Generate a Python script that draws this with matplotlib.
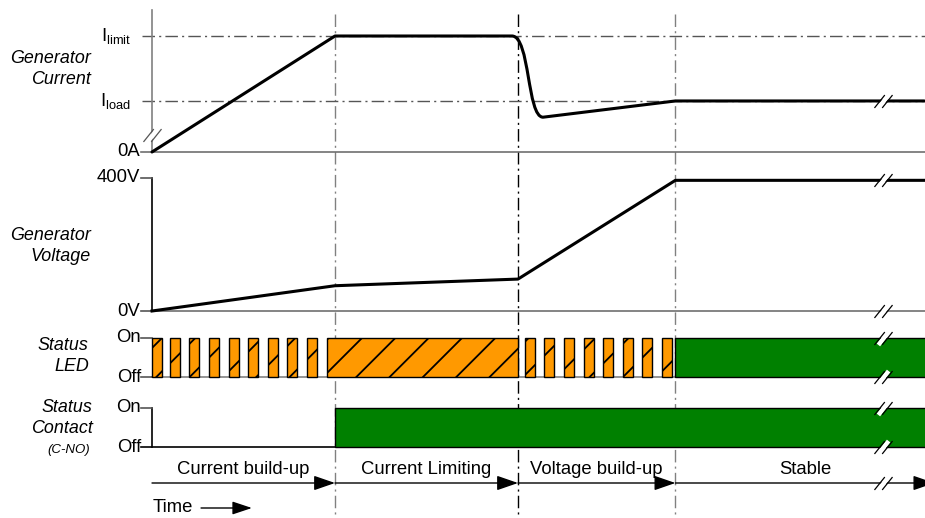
import matplotlib.pyplot as plt
from matplotlib.path import Path
from matplotlib.patches import PathPatch, Rectangle
from matplotlib.markers import MarkerStyle

plt.rcParams['font.family'] = ['Liberation Sans', 'DejaVu Sans']
plt.rcParams['hatch.linewidth'] = 1.3
plt.rcParams['hatch.color'] = '#2b1e08'

# phases (time in arbitrary units)
phase_names = ["Current build-up", "Current Limiting", "Voltage build-up", "Stable"]
phase_start = [0, 10, 20, 28.6]
t_end = 42.2       # right edge of the drawing
t_break = 39.95    # where the "//" marks sit

# generator current, fraction of I_limit
cur_t = [0, 10, 19.67, 21.37, 28.6, 42.2]
cur_i = [0, 1.0, 1.0, 0.30, 0.44, 0.44]
drop_ctrl_t = [20.66, 20.49]   # bezier handles of the drop after limiting
drop_ctrl_i = [1.0, 0.30]
i_ticks = [0, 0.44, 1.0]
i_ticklabels = ["0A", r"$\mathregular{I_{load}}$", r"$\mathregular{I_{limit}}$"]

# generator voltage
volt_t = [0, 10, 20, 28.6, 42.2]
volt_v = [0, 76, 96, 393, 393]
v_ticks = [0, 400]
v_ticklabels = ["0V", "400V"]

# status LED: blink starts, steady orange, steady green
led_blink_t = [0, 0.98, 2.02, 3.11, 4.21, 5.25, 6.34, 7.38, 8.47,
               20.38, 21.42, 22.51, 23.61, 24.64, 25.74, 26.78, 27.87]
led_blink_len = 0.55
led_orange = (9.56, 20)
led_green = (28.6, t_end)
# status contact closed
contact_on = (10, t_end)

# layout, pixel rows (figure is 925x518)
PX = 18.3          # pixels per time unit
X0 = 152           # pixel of t=0
CUR_BASE, CUR_H = 152, 116
VOLT_BASE, VOLT_H = 311, 133
LED_OFF, LED_ON = 377, 338
CON_OFF, CON_ON = 447, 408
ARROW_Y, TIME_Y = 483, 508
ORANGE, GREEN = '#ff9900', '#008000'
FS = 13.3      # tick / phase text
FS_LBL = 12.9  # italic row names

fig = plt.figure(figsize=(9.25, 5.18), dpi=100)
ax = fig.add_axes([0, 0, 1, 1])
ax.set_xlim(-X0 / PX, (925 - X0) / PX)
ax.set_ylim(518, 0)
ax.axis('off')

tick = 0.6
dashdot = (0, (9, 3, 1.5, 3))


def cy(i):
    return CUR_BASE - i * CUR_H


def vy(v):
    return VOLT_BASE - v / 400 * VOLT_H


def row_name(y, txt, x=-3.35, ls=1.32):
    ax.text(x, y, txt, ha='right', va='center', style='italic',
            fontsize=FS_LBL, linespacing=ls, multialignment='right')


# phase boundaries
for k, t in enumerate(phase_start[1:]):
    ax.plot([t, t], [14, 518], ls=dashdot, lw=1,
            color='black' if k == 1 else '#808080', zorder=1)

# ---- generator current
ax.plot([0, 0], [10, CUR_BASE], color='#808080', lw=1.2)
ax.plot([0, t_end + 1], [CUR_BASE] * 2, color='#707070', lw=1.2)
ax.plot([-tick, 0], [CUR_BASE] * 2, color='#707070', lw=1.2)
for lvl in i_ticks[1:]:
    ax.plot([-0.55, t_end + 1], [cy(lvl)] * 2, ls=dashdot, lw=1, color='#555555', zorder=1)
for lvl, lab in zip(i_ticks, i_ticklabels):
    xoff = -0.65 if lvl == 0 else -1.15
    ax.text(xoff, cy(lvl), lab, ha='right', va='center', fontsize=FS)

verts = [(t, cy(i)) for t, i in zip(cur_t[:3], cur_i[:3])]
verts += [(t, cy(i)) for t, i in zip(drop_ctrl_t, drop_ctrl_i)]
verts += [(t, cy(i)) for t, i in zip(cur_t[3:], cur_i[3:])]
codes = [Path.MOVETO, Path.LINETO, Path.LINETO, Path.CURVE4, Path.CURVE4,
         Path.CURVE4, Path.LINETO, Path.LINETO]
ax.add_patch(PathPatch(Path(verts, codes), fill=False, lw=2.2, ec='black',
                       joinstyle='round', capstyle='round', zorder=3))
row_name(69, "Generator\nCurrent")

# ---- generator voltage
ax.plot([0, 0], [vy(400), VOLT_BASE], color='black', lw=1.2)
ax.plot([0, t_end + 1], [VOLT_BASE] * 2, color='#707070', lw=1.2)
for v, lab in zip(v_ticks, v_ticklabels):
    ax.plot([-tick, 0], [vy(v)] * 2, color='#555555', lw=1.2)
    ax.text(-0.65, vy(v), lab, ha='right', va='center', fontsize=FS)
ax.plot(volt_t, [vy(v) for v in volt_v], color='black', lw=2.2,
        solid_joinstyle='round', zorder=3)
row_name(246, "Generator\nVoltage")

# ---- status LED
ax.plot([0, t_end + 1], [LED_OFF] * 2, color='#808080', lw=1.2)
for y, lab in [(LED_ON, "On"), (LED_OFF, "Off")]:
    ax.plot([-tick, 0], [y, y], color='#555555', lw=1.2)
    ax.text(-0.6, y, lab, ha='right', va='center', fontsize=FS)
for t in led_blink_t:
    ax.add_patch(Rectangle((t, LED_ON), led_blink_len, LED_OFF - LED_ON, fc=ORANGE,
                           ec='black', lw=1, hatch='/', zorder=2))
ax.add_patch(Rectangle((led_orange[0], LED_ON), led_orange[1] - led_orange[0],
                       LED_OFF - LED_ON, fc=ORANGE, ec='black', lw=1, hatch='/', zorder=2))
ax.add_patch(Rectangle((led_green[0], LED_ON), led_green[1] - led_green[0] + 2,
                       LED_OFF - LED_ON, fc=GREEN, ec='black', lw=1, zorder=2))
row_name(356, "Status\nLED", x=-3.45)

# ---- status contact
ax.plot([0, 0], [CON_ON, CON_OFF], color='black', lw=1.2)
ax.plot([-tick, 0], [CON_ON] * 2, color='#555555', lw=1.2)
ax.plot([-tick, contact_on[0]], [CON_OFF] * 2, color='black', lw=1.2)
for y, lab in [(CON_ON, "On"), (CON_OFF, "Off")]:
    ax.text(-0.6, y, lab, ha='right', va='center', fontsize=FS)
ax.add_patch(Rectangle((contact_on[0], CON_ON), contact_on[1] - contact_on[0] + 2,
                       CON_OFF - CON_ON, fc=GREEN, ec='black', lw=1, zorder=2))
row_name(418, "Status\nContact", x=-3.25, ls=1.25)
ax.text(-3.4, 450, "(C-NO)", ha='right', va='center', style='italic', fontsize=9.5)

# ---- phase arrows
ends = phase_start[1:] + [t_end + 0.55]
for name, t0, t1 in zip(phase_names, phase_start, ends):
    ax.annotate('', xy=(t1, ARROW_Y), xytext=(t0, ARROW_Y), annotation_clip=False,
                arrowprops=dict(arrowstyle='-|>,head_length=1.3,head_width=0.45',
                                color='black', lw=1, shrinkA=0, shrinkB=0))
    ax.text((t0 + min(t1, t_end)) / 2 + (0.3 if name == "Stable" else 0), ARROW_Y - 13,
            name, ha='center', va='center', fontsize=FS)

ax.text(0.05, TIME_Y, "Time", ha='left', va='center', fontsize=FS)
ax.annotate('', xy=(5.46, TIME_Y), xytext=(2.68, TIME_Y),
            arrowprops=dict(arrowstyle='-|>,head_length=1.2,head_width=0.4',
                            color='black', lw=1, shrinkA=0, shrinkB=0))

# ---- "//" break marks
gap = MarkerStyle(Path([(-4, -5), (4, 5)], [Path.MOVETO, Path.LINETO]))
slashes = MarkerStyle(Path([(-7, -5), (1, 5), (-1, -5), (7, 5)],
                           [Path.MOVETO, Path.LINETO, Path.MOVETO, Path.LINETO]))
break_y = [cy(cur_i[-1]), vy(volt_v[-1]), VOLT_BASE, LED_ON, LED_OFF,
           CON_ON, CON_OFF, ARROW_Y]
for y in break_y:
    ax.plot([t_break], [y], marker=gap, ms=9.3, mew=3.2, mec='white', zorder=5)
    ax.plot([t_break], [y], marker=slashes, ms=13, mew=0.9, mec='black', zorder=6)
# break on the current axis
ax.plot([0], [135], marker=gap, ms=9.3, mew=3.2, mec='white', zorder=5)
ax.plot([0], [135], marker=slashes, ms=13, mew=0.9, mec='#555555', zorder=6)

fig.savefig('out.png', dpi=100)
